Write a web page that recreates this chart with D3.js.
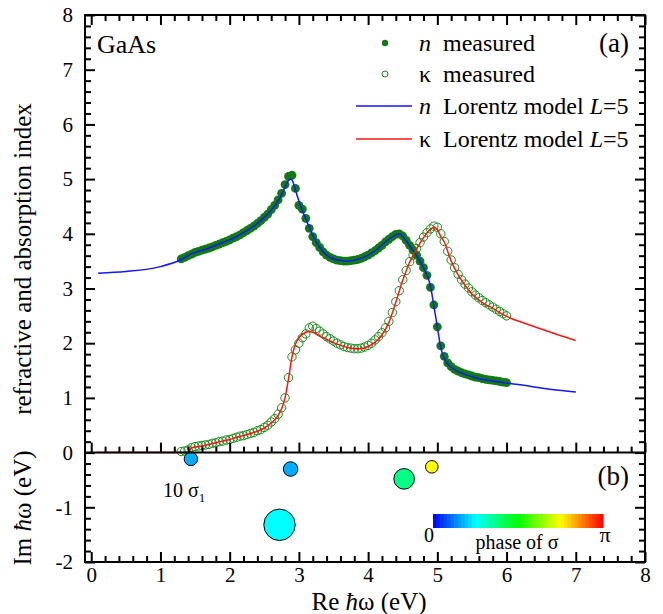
<!DOCTYPE html>
<html><head><meta charset="utf-8">
<script src="https://cdn.jsdelivr.net/npm/d3@7"></script>
<style>
html,body{margin:0;padding:0;background:#fff;}
svg{display:block;}
</style></head>
<body><svg id="c" width="663" height="614"></svg>
<script>
// ---------- data ----------
const xTicks = [0,1,2,3,4,5,6,7,8];
const yTicks = [-2,-1,0,1,2,3,4,5,6,7,8];
const xTickLabels = ["0","1","2","3","4","5","6","7","8"];
const yTickLabels = ["-2","-1","0","1","2","3","4","5","6","7","8"];

// measured energies (eV)
const measE = [1.30,1.35,1.40,1.45,1.50,1.55,1.60,1.65,1.70,1.75,1.80,1.85,1.90,1.95,2.00,2.05,2.10,2.15,2.20,2.25,
2.30,2.35,2.40,2.45,2.50,2.55,2.60,2.65,2.70,2.75,2.80,2.85,2.90,2.95,3.00,3.05,3.10,3.15,3.20,3.25,
3.30,3.35,3.40,3.45,3.50,3.55,3.60,3.65,3.70,3.75,3.80,3.85,3.90,3.95,4.00,4.05,4.10,4.15,4.20,4.25,
4.30,4.35,4.40,4.45,4.50,4.55,4.60,4.65,4.70,4.75,4.80,4.85,4.90,4.95,5.00,5.05,5.10,5.15,5.20,5.25,
5.30,5.35,5.40,5.45,5.50,5.55,5.60,5.65,5.70,5.75,5.80,5.85,5.90,5.95,6.00];
// measured n
const measN = [3.54,3.57,3.60,3.63,3.66,3.68,3.70,3.72,3.74,3.76,3.79,3.81,3.84,3.86,3.89,3.92,3.95,3.98,4.02,4.06,
4.10,4.14,4.19,4.24,4.30,4.36,4.44,4.52,4.62,4.74,4.90,5.05,5.07,4.83,4.52,4.45,4.28,4.10,3.95,3.84,
3.75,3.67,3.61,3.57,3.54,3.52,3.51,3.50,3.50,3.51,3.52,3.53,3.55,3.58,3.61,3.65,3.69,3.74,3.79,3.85,
3.90,3.95,3.99,4.00,3.96,3.88,3.79,3.70,3.61,3.50,3.38,3.24,3.02,2.70,2.30,1.95,1.76,1.64,1.57,1.52,
1.49,1.46,1.44,1.42,1.40,1.38,1.37,1.35,1.34,1.33,1.32,1.31,1.30,1.29,1.28];
// measured kappa
const measK = [0.02,0.03,0.05,0.09,0.11,0.12,0.13,0.14,0.15,0.17,0.18,0.20,0.21,0.23,0.24,0.26,0.28,0.30,0.31,0.33,
0.35,0.37,0.40,0.42,0.46,0.50,0.56,0.62,0.70,0.82,1.00,1.37,1.75,1.88,2.00,2.10,2.17,2.28,2.31,2.27,
2.22,2.17,2.12,2.08,2.04,2.00,1.97,1.94,1.92,1.91,1.90,1.90,1.91,1.93,1.96,2.00,2.06,2.12,2.19,2.28,
2.40,2.56,2.76,2.96,3.16,3.33,3.49,3.61,3.73,3.84,3.94,4.02,4.09,4.14,4.12,4.00,3.86,3.68,3.52,3.38,
3.26,3.16,3.08,3.01,2.94,2.88,2.83,2.78,2.74,2.70,2.66,2.62,2.58,2.54,2.50];

// Lorentz model L=5
const modelNE = [0.1,0.5,1.0,1.3,1.4,1.45,1.5,1.6,1.7,1.8,1.9,2.0,2.1,2.2,2.3,2.4,2.5,2.6,2.7,2.8,2.85,2.88,2.92,2.95,
3.0,3.05,3.1,3.15,3.2,3.3,3.4,3.5,3.6,3.7,3.8,3.9,4.0,4.1,4.2,4.3,4.4,4.45,4.5,4.6,4.7,4.8,4.9,4.95,
5.0,5.05,5.1,5.15,5.2,5.3,5.4,5.5,5.6,5.7,5.8,5.9,6.0,6.25,6.5,6.75,7.0];
const modelN = [3.28,3.31,3.40,3.53,3.60,3.64,3.66,3.70,3.74,3.79,3.84,3.89,3.95,4.02,4.10,4.19,4.30,4.43,4.60,4.85,4.98,5.00,4.93,4.80,
4.60,4.42,4.27,4.12,3.97,3.75,3.61,3.54,3.51,3.50,3.52,3.55,3.61,3.69,3.79,3.90,3.98,4.00,3.95,3.78,3.60,3.38,3.05,2.68,
2.30,1.92,1.72,1.62,1.56,1.48,1.43,1.39,1.35,1.33,1.31,1.29,1.27,1.23,1.18,1.14,1.11];
const modelKE = [0.1,0.5,1.0,1.3,1.4,1.45,1.5,1.6,1.7,1.8,1.9,2.0,2.1,2.2,2.3,2.4,2.5,2.6,2.7,2.75,2.8,2.85,2.9,2.95,
3.0,3.1,3.15,3.2,3.3,3.4,3.5,3.6,3.7,3.8,3.9,4.0,4.1,4.2,4.3,4.4,4.5,4.6,4.7,4.8,4.9,4.95,5.0,5.05,
5.1,5.2,5.3,5.4,5.5,5.6,5.7,5.8,5.9,6.0,6.25,6.5,6.75,7.0];
const modelK = [0,0,0,0,0.0,0.09,0.10,0.12,0.15,0.18,0.21,0.24,0.28,0.31,0.35,0.39,0.45,0.54,0.68,0.80,1.00,1.35,1.75,1.98,
2.10,2.20,2.22,2.20,2.13,2.07,2.01,1.96,1.92,1.90,1.90,1.94,2.02,2.15,2.38,2.75,3.15,3.48,3.72,3.93,4.08,4.12,4.08,3.95,
3.85,3.50,3.25,3.06,2.90,2.79,2.70,2.64,2.56,2.49,2.37,2.26,2.15,2.05];

// poles (panel b): Re, Im (eV), |sigma|, phase (units of pi)
const poleRe = [1.44, 2.88, 2.72, 4.52, 4.92];
const poleIm = [-0.115, -0.30, -1.32, -0.48, -0.26];
const poleSigma = [0.0097, 0.0105, 0.0227, 0.0149, 0.0091];
const polePhase = [0.17, 0.17, 0.25, 0.37, 0.75];

const legendLabels = ["measured","measured","Lorentz model ","Lorentz model "];

// ---------- drawing ----------
const svg = d3.select("#c");
const L = 85, R = 645, T = 15, B = 562;
const x = d3.scaleLinear().domain([-0.09, 8]).range([L, R]);
const y = d3.scaleLinear().domain([-2, 8]).range([B, T]);
const color = t => d3.hsl(240 * (1 - t), 1, 0.5).toString();
const green = "#127a12";
const green2 = "#1a8a1a";

// measured kappa (open circles)
svg.append("g").selectAll("circle").data(measE).join("circle")
  .attr("cx", d => x(d)).attr("cy", (d,i) => y(measK[i])).attr("r", 4.2)
  .attr("fill", "none").attr("stroke", green2).attr("stroke-width", 1);
// measured n (filled)
svg.append("g").selectAll("circle").data(measE).join("circle")
  .attr("cx", d => x(d)).attr("cy", (d,i) => y(measN[i])).attr("r", 4.4)
  .attr("fill", green);

// model lines
const line = d3.line().x(d => x(d[0])).y(d => y(d[1])).curve(d3.curveMonotoneX);
svg.append("path").datum(modelNE.map((e,i)=>[e,modelN[i]])).attr("d", line)
  .attr("fill","none").attr("stroke","#1515ff").attr("stroke-width",1.5);
svg.append("path").datum(modelKE.map((e,i)=>[e,modelK[i]])).attr("d", line)
  .attr("fill","none").attr("stroke","#ff1515").attr("stroke-width",1.5);

// poles
svg.append("g").selectAll("circle").data(poleRe).join("circle")
  .attr("cx", d => x(d)).attr("cy", (d,i) => y(poleIm[i]))
  .attr("r", (d,i) => x(10*poleSigma[i]) - x(0))
  .attr("fill", (d,i) => color(polePhase[i]))
  .attr("stroke", "#000").attr("stroke-width", 1);

// ---------- axes / frame ----------
const minorX = d3.range(0, 8.001, 0.2).filter(v => Math.abs(v - Math.round(v)) > 1e-6);
const minorY = d3.range(-2, 8.001, 0.2).filter(v => Math.abs(v - Math.round(v)) > 1e-6);
function axisG(axis, tx, ty) {
  const g = svg.append("g").attr("transform", `translate(${tx},${ty})`).call(axis);
  g.attr("font-family", null).attr("font-size", null);
  g.select(".domain").remove();
  g.selectAll("line").attr("stroke", "#000").attr("stroke-width", 2);
  g.selectAll("text").attr("font-size", 21).attr("fill", "#000");
  return g;
}
// bottom
axisG(d3.axisBottom(x).tickValues(xTicks).tickFormat((d,i)=>xTickLabels[i]).tickSize(-10).tickPadding(5), 0, B);
axisG(d3.axisBottom(x).tickValues(minorX).tickFormat("").tickSize(-6), 0, B);
// top
axisG(d3.axisTop(x).tickValues(xTicks).tickFormat("").tickSize(-10), 0, T);
axisG(d3.axisTop(x).tickValues(minorX).tickFormat("").tickSize(-6), 0, T);
// middle (y=0) line ticks pointing up
axisG(d3.axisBottom(x).tickValues(xTicks).tickFormat("").tickSize(-10), 0, y(0));
axisG(d3.axisBottom(x).tickValues(minorX).tickFormat("").tickSize(-6), 0, y(0));
// left
axisG(d3.axisLeft(y).tickValues(yTicks).tickFormat((d,i)=>yTickLabels[i]).tickSize(-10).tickPadding(12), L, 0);
axisG(d3.axisLeft(y).tickValues(minorY).tickFormat("").tickSize(-6), L, 0);
// right
axisG(d3.axisRight(y).tickValues(yTicks).tickFormat("").tickSize(-10), R, 0);
axisG(d3.axisRight(y).tickValues(minorY).tickFormat("").tickSize(-6), R, 0);

// frame lines
svg.append("rect").attr("x", L).attr("y", T).attr("width", R - L).attr("height", B - T)
  .attr("fill", "none").attr("stroke", "#000").attr("stroke-width", 2);
svg.append("line").attr("x1", L).attr("x2", R).attr("y1", y(0)).attr("y2", y(0))
  .attr("stroke", "#000").attr("stroke-width", 2);

// ---------- texts ----------
const txt = (s, xx, yy, size, anchor) => svg.append("text").attr("x", xx).attr("y", yy)
  .attr("font-size", size).attr("text-anchor", anchor || "start").attr("fill", "#000").text(s);

txt("GaAs", 97, 53, 26);
txt("(a)", 629, 52, 27, "end");
txt("(b)", 629, 485, 27, "end");

// legend
const legY = [43, 74, 106, 139];
const leg = svg.append("g");
leg.append("circle").attr("cx", 385).attr("cy", legY[0]).attr("r", 3.2).attr("fill", green);
leg.append("circle").attr("cx", 385).attr("cy", legY[1]).attr("r", 3).attr("fill", "none").attr("stroke", green2).attr("stroke-width", 1);
leg.append("line").attr("x1", 356).attr("x2", 412).attr("y1", legY[2]).attr("y2", legY[2]).attr("stroke", "#1515ff").attr("stroke-width", 1.5);
leg.append("line").attr("x1", 356).attr("x2", 412).attr("y1", legY[3]).attr("y2", legY[3]).attr("stroke", "#ff1515").attr("stroke-width", 1.5);
const sym = ["n","κ","n","κ"];
sym.forEach((s, i) => {
  const t = leg.append("text").attr("x", 419).attr("y", legY[i] + 8).attr("font-size", 24);
  t.append("tspan").attr("font-style", s === "n" ? "italic" : "normal").text(s);
  t.append("tspan").attr("x", 443).text(legendLabels[i]);
  if (i >= 2) {
    t.append("tspan").attr("font-style", "italic").text("L");
    t.append("tspan").text("=5");
  }
});

// 10 sigma_1 label
const st = svg.append("text").attr("x", 163).attr("y", 497).attr("font-size", 20);
st.append("tspan").text("10 σ");
st.append("tspan").attr("font-size", 13).attr("dy", 5).text("1");

// colorbar
const cbX0 = 433, cbX1 = 603, cbY = 514, cbH = 14, nStripes = 48;
const cbScale = d3.scaleLinear().domain([0, 1]).range([cbX0, cbX1]);
svg.append("g").selectAll("rect").data(d3.range(nStripes)).join("rect")
  .attr("x", d => cbScale(d / nStripes)).attr("y", cbY)
  .attr("width", (cbX1 - cbX0) / nStripes + 0.6).attr("height", cbH)
  .attr("fill", d => color((d + 0.5) / nStripes));
txt("0", 429, 542, 20, "middle");
txt("π", 605, 542, 22, "middle");
txt("phase of σ", 517, 549, 20, "middle");

// axis titles
const xt = svg.append("text").attr("x", 369).attr("y", 610).attr("text-anchor", "middle").attr("font-size", 25);
xt.append("tspan").text("Re ");
xt.append("tspan").attr("font-style", "italic").text("ħ");
xt.append("tspan").text("ω (eV)");

svg.append("text").attr("transform", "translate(31,259) rotate(-90)").attr("text-anchor", "middle")
  .attr("font-size", 25).text("refractive and absorption index");
const yt = svg.append("text").attr("transform", "translate(31,508) rotate(-90)").attr("text-anchor", "middle")
  .attr("font-size", 25);
yt.append("tspan").text("Im ");
yt.append("tspan").attr("font-style", "italic").text("ħ");
yt.append("tspan").text("ω (eV)");

// serif font on every text
svg.selectAll("text").style("font-family", '"Liberation Serif"');
</script></body></html>
